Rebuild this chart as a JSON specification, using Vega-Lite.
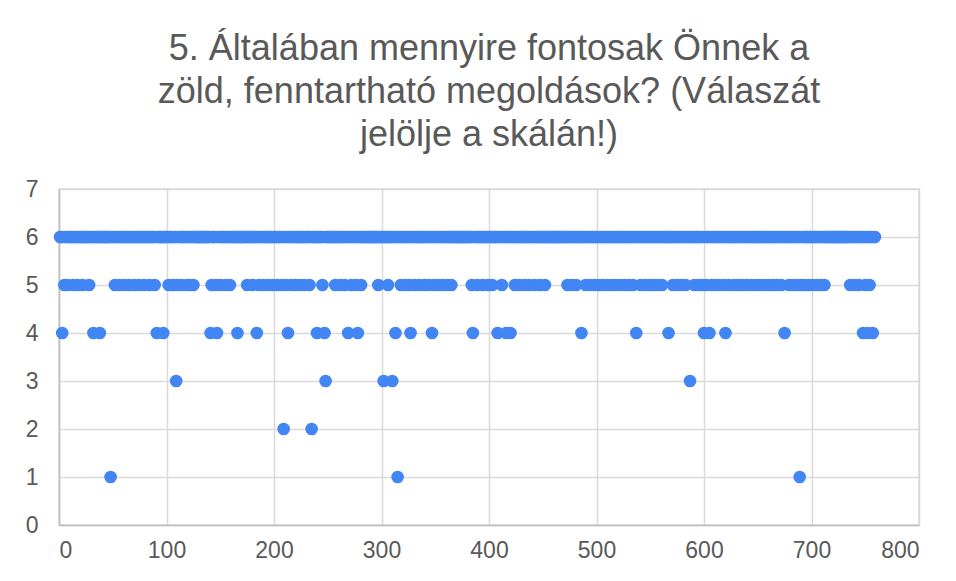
{"$schema":"https://vega.github.io/schema/vega-lite/v6.json","width":860,"height":336,"autosize":"none","padding":{"left":59,"top":189,"right":37,"bottom":56},"background":"white",
"title":{"text":["5. Általában mennyire fontosak Önnek a","zöld, fenntartható megoldások? (Válaszát","jelölje a skálán!)"],"font":"Liberation Sans","fontSize":36,"fontWeight":"normal","color":"#595959","lineHeight":43,"anchor":"middle","offset":24},
"config":{"view":{"stroke":"#d9d9d9","strokeWidth":1.5},"axis":{"labelFont":"Liberation Sans","labelFontSize":23,"labelColor":"#595959","ticks":false,"gridColor":"#d9d9d9","gridWidth":1.5,"domainColor":"#bfbfbf","domainWidth":1.5,"title":null}},
"data":{"values":[
{"n":48,"v":1},{"n":315,"v":1},{"n":689,"v":1},
{"n":209,"v":2},{"n":235,"v":2},
{"n":109,"v":3},{"n":248,"v":3},{"n":302,"v":3},{"n":310,"v":3},{"n":587,"v":3},
{"n":3,"v":4},{"n":32,"v":4},{"n":38,"v":4},{"n":91,"v":4},{"n":97,"v":4},{"n":141,"v":4},{"n":147,"v":4},{"n":166,"v":4},{"n":184,"v":4},{"n":213,"v":4},{"n":240,"v":4},{"n":247,"v":4},{"n":269,"v":4},{"n":278,"v":4},{"n":313,"v":4},{"n":327,"v":4},{"n":347,"v":4},{"n":385,"v":4},{"n":408,"v":4},{"n":416,"v":4},{"n":420,"v":4},{"n":486,"v":4},{"n":537,"v":4},{"n":567,"v":4},{"n":600,"v":4},{"n":605,"v":4},{"n":620,"v":4},{"n":675,"v":4},{"n":748,"v":4},{"n":752,"v":4},{"n":757,"v":4},
{"n":5,"v":5},{"n":8,"v":5},{"n":13,"v":5},{"n":17,"v":5},{"n":22,"v":5},{"n":28,"v":5},{"n":52,"v":5},{"n":56,"v":5},{"n":61,"v":5},{"n":65,"v":5},{"n":70,"v":5},{"n":74,"v":5},{"n":79,"v":5},{"n":84,"v":5},{"n":89,"v":5},{"n":102,"v":5},{"n":106,"v":5},{"n":110,"v":5},{"n":114,"v":5},{"n":119,"v":5},{"n":122,"v":5},{"n":125,"v":5},{"n":142,"v":5},{"n":146,"v":5},{"n":150,"v":5},{"n":155,"v":5},{"n":159,"v":5},{"n":175,"v":5},{"n":180,"v":5},{"n":186,"v":5},{"n":190,"v":5},{"n":195,"v":5},{"n":199,"v":5},{"n":203,"v":5},{"n":207,"v":5},{"n":211,"v":5},{"n":216,"v":5},{"n":220,"v":5},{"n":224,"v":5},{"n":228,"v":5},{"n":233,"v":5},{"n":245,"v":5},{"n":257,"v":5},{"n":262,"v":5},{"n":266,"v":5},{"n":272,"v":5},{"n":276,"v":5},{"n":281,"v":5},{"n":297,"v":5},{"n":306,"v":5},{"n":318,"v":5},{"n":322,"v":5},{"n":326,"v":5},{"n":331,"v":5},{"n":335,"v":5},{"n":340,"v":5},{"n":344,"v":5},{"n":349,"v":5},{"n":353,"v":5},{"n":357,"v":5},{"n":361,"v":5},{"n":365,"v":5},{"n":384,"v":5},{"n":389,"v":5},{"n":394,"v":5},{"n":399,"v":5},{"n":403,"v":5},{"n":412,"v":5},{"n":424,"v":5},{"n":428,"v":5},{"n":433,"v":5},{"n":437,"v":5},{"n":442,"v":5},{"n":447,"v":5},{"n":452,"v":5},{"n":473,"v":5},{"n":477,"v":5},{"n":481,"v":5},{"n":490,"v":5},{"n":494,"v":5},{"n":498,"v":5},{"n":502,"v":5},{"n":506,"v":5},{"n":510,"v":5},{"n":514,"v":5},{"n":518,"v":5},{"n":522,"v":5},{"n":526,"v":5},{"n":530,"v":5},{"n":534,"v":5},{"n":541,"v":5},{"n":545,"v":5},{"n":549,"v":5},{"n":553,"v":5},{"n":557,"v":5},{"n":561,"v":5},{"n":571,"v":5},{"n":575,"v":5},{"n":579,"v":5},{"n":583,"v":5},{"n":591,"v":5},{"n":595,"v":5},{"n":598,"v":5},{"n":602,"v":5},{"n":607,"v":5},{"n":610,"v":5},{"n":614,"v":5},{"n":618,"v":5},{"n":623,"v":5},{"n":628,"v":5},{"n":632,"v":5},{"n":636,"v":5},{"n":640,"v":5},{"n":644,"v":5},{"n":648,"v":5},{"n":652,"v":5},{"n":656,"v":5},{"n":660,"v":5},{"n":664,"v":5},{"n":668,"v":5},{"n":672,"v":5},{"n":679,"v":5},{"n":683,"v":5},{"n":687,"v":5},{"n":691,"v":5},{"n":693,"v":5},{"n":697,"v":5},{"n":701,"v":5},{"n":705,"v":5},{"n":709,"v":5},{"n":712,"v":5},{"n":736,"v":5},{"n":740,"v":5},{"n":744,"v":5},{"n":750,"v":5},{"n":754,"v":5},
{"n":1,"v":6},{"n":2,"v":6},{"n":4,"v":6},{"n":6,"v":6},{"n":7,"v":6},{"n":9,"v":6},
{"n":10,"v":6},{"n":11,"v":6},{"n":12,"v":6},{"n":14,"v":6},{"n":15,"v":6},{"n":16,"v":6},{"n":18,"v":6},{"n":19,"v":6},
{"n":20,"v":6},{"n":21,"v":6},{"n":23,"v":6},{"n":24,"v":6},{"n":25,"v":6},{"n":26,"v":6},{"n":27,"v":6},{"n":29,"v":6},
{"n":30,"v":6},{"n":31,"v":6},{"n":33,"v":6},{"n":34,"v":6},{"n":35,"v":6},{"n":36,"v":6},{"n":37,"v":6},{"n":39,"v":6},
{"n":40,"v":6},{"n":41,"v":6},{"n":42,"v":6},{"n":43,"v":6},{"n":44,"v":6},{"n":45,"v":6},{"n":46,"v":6},{"n":47,"v":6},{"n":49,"v":6},
{"n":50,"v":6},{"n":51,"v":6},{"n":53,"v":6},{"n":54,"v":6},{"n":55,"v":6},{"n":57,"v":6},{"n":58,"v":6},{"n":59,"v":6},
{"n":60,"v":6},{"n":62,"v":6},{"n":63,"v":6},{"n":64,"v":6},{"n":66,"v":6},{"n":67,"v":6},{"n":68,"v":6},{"n":69,"v":6},
{"n":71,"v":6},{"n":72,"v":6},{"n":73,"v":6},{"n":75,"v":6},{"n":76,"v":6},{"n":77,"v":6},{"n":78,"v":6},
{"n":80,"v":6},{"n":81,"v":6},{"n":82,"v":6},{"n":83,"v":6},{"n":85,"v":6},{"n":86,"v":6},{"n":87,"v":6},{"n":88,"v":6},
{"n":90,"v":6},{"n":92,"v":6},{"n":93,"v":6},{"n":94,"v":6},{"n":95,"v":6},{"n":96,"v":6},{"n":98,"v":6},{"n":99,"v":6},
{"n":100,"v":6},{"n":101,"v":6},{"n":103,"v":6},{"n":104,"v":6},{"n":105,"v":6},{"n":107,"v":6},{"n":108,"v":6},
{"n":111,"v":6},{"n":112,"v":6},{"n":113,"v":6},{"n":115,"v":6},{"n":116,"v":6},{"n":117,"v":6},{"n":118,"v":6},
{"n":120,"v":6},{"n":121,"v":6},{"n":123,"v":6},{"n":124,"v":6},{"n":126,"v":6},{"n":127,"v":6},{"n":128,"v":6},{"n":129,"v":6},
{"n":130,"v":6},{"n":131,"v":6},{"n":132,"v":6},{"n":133,"v":6},{"n":134,"v":6},{"n":135,"v":6},{"n":136,"v":6},{"n":137,"v":6},{"n":138,"v":6},{"n":139,"v":6},
{"n":140,"v":6},{"n":143,"v":6},{"n":144,"v":6},{"n":145,"v":6},{"n":148,"v":6},{"n":149,"v":6},
{"n":151,"v":6},{"n":152,"v":6},{"n":153,"v":6},{"n":154,"v":6},{"n":156,"v":6},{"n":157,"v":6},{"n":158,"v":6},
{"n":160,"v":6},{"n":161,"v":6},{"n":162,"v":6},{"n":163,"v":6},{"n":164,"v":6},{"n":165,"v":6},{"n":167,"v":6},{"n":168,"v":6},{"n":169,"v":6},
{"n":170,"v":6},{"n":171,"v":6},{"n":172,"v":6},{"n":173,"v":6},{"n":174,"v":6},{"n":176,"v":6},{"n":177,"v":6},{"n":178,"v":6},{"n":179,"v":6},
{"n":181,"v":6},{"n":182,"v":6},{"n":183,"v":6},{"n":185,"v":6},{"n":187,"v":6},{"n":188,"v":6},{"n":189,"v":6},
{"n":191,"v":6},{"n":192,"v":6},{"n":193,"v":6},{"n":194,"v":6},{"n":196,"v":6},{"n":197,"v":6},{"n":198,"v":6},
{"n":200,"v":6},{"n":201,"v":6},{"n":202,"v":6},{"n":204,"v":6},{"n":205,"v":6},{"n":206,"v":6},{"n":208,"v":6},
{"n":210,"v":6},{"n":212,"v":6},{"n":214,"v":6},{"n":215,"v":6},{"n":217,"v":6},{"n":218,"v":6},{"n":219,"v":6},
{"n":221,"v":6},{"n":222,"v":6},{"n":223,"v":6},{"n":225,"v":6},{"n":226,"v":6},{"n":227,"v":6},{"n":229,"v":6},
{"n":230,"v":6},{"n":231,"v":6},{"n":232,"v":6},{"n":234,"v":6},{"n":236,"v":6},{"n":237,"v":6},{"n":238,"v":6},{"n":239,"v":6},
{"n":241,"v":6},{"n":242,"v":6},{"n":243,"v":6},{"n":244,"v":6},{"n":246,"v":6},{"n":249,"v":6},
{"n":250,"v":6},{"n":251,"v":6},{"n":252,"v":6},{"n":253,"v":6},{"n":254,"v":6},{"n":255,"v":6},{"n":256,"v":6},{"n":258,"v":6},{"n":259,"v":6},
{"n":260,"v":6},{"n":261,"v":6},{"n":263,"v":6},{"n":264,"v":6},{"n":265,"v":6},{"n":267,"v":6},{"n":268,"v":6},
{"n":270,"v":6},{"n":271,"v":6},{"n":273,"v":6},{"n":274,"v":6},{"n":275,"v":6},{"n":277,"v":6},{"n":279,"v":6},
{"n":280,"v":6},{"n":282,"v":6},{"n":283,"v":6},{"n":284,"v":6},{"n":285,"v":6},{"n":286,"v":6},{"n":287,"v":6},{"n":288,"v":6},{"n":289,"v":6},
{"n":290,"v":6},{"n":291,"v":6},{"n":292,"v":6},{"n":293,"v":6},{"n":294,"v":6},{"n":295,"v":6},{"n":296,"v":6},{"n":298,"v":6},{"n":299,"v":6},
{"n":300,"v":6},{"n":301,"v":6},{"n":303,"v":6},{"n":304,"v":6},{"n":305,"v":6},{"n":307,"v":6},{"n":308,"v":6},{"n":309,"v":6},
{"n":311,"v":6},{"n":312,"v":6},{"n":314,"v":6},{"n":316,"v":6},{"n":317,"v":6},{"n":319,"v":6},
{"n":320,"v":6},{"n":321,"v":6},{"n":323,"v":6},{"n":324,"v":6},{"n":325,"v":6},{"n":328,"v":6},{"n":329,"v":6},
{"n":330,"v":6},{"n":332,"v":6},{"n":333,"v":6},{"n":334,"v":6},{"n":336,"v":6},{"n":337,"v":6},{"n":338,"v":6},{"n":339,"v":6},
{"n":341,"v":6},{"n":342,"v":6},{"n":343,"v":6},{"n":345,"v":6},{"n":346,"v":6},{"n":348,"v":6},
{"n":350,"v":6},{"n":351,"v":6},{"n":352,"v":6},{"n":354,"v":6},{"n":355,"v":6},{"n":356,"v":6},{"n":358,"v":6},{"n":359,"v":6},
{"n":360,"v":6},{"n":362,"v":6},{"n":363,"v":6},{"n":364,"v":6},{"n":366,"v":6},{"n":367,"v":6},{"n":368,"v":6},{"n":369,"v":6},
{"n":370,"v":6},{"n":371,"v":6},{"n":372,"v":6},{"n":373,"v":6},{"n":374,"v":6},{"n":375,"v":6},{"n":376,"v":6},{"n":377,"v":6},{"n":378,"v":6},{"n":379,"v":6},
{"n":380,"v":6},{"n":381,"v":6},{"n":382,"v":6},{"n":383,"v":6},{"n":386,"v":6},{"n":387,"v":6},{"n":388,"v":6},
{"n":390,"v":6},{"n":391,"v":6},{"n":392,"v":6},{"n":393,"v":6},{"n":395,"v":6},{"n":396,"v":6},{"n":397,"v":6},{"n":398,"v":6},
{"n":400,"v":6},{"n":401,"v":6},{"n":402,"v":6},{"n":404,"v":6},{"n":405,"v":6},{"n":406,"v":6},{"n":407,"v":6},{"n":409,"v":6},
{"n":410,"v":6},{"n":411,"v":6},{"n":413,"v":6},{"n":414,"v":6},{"n":415,"v":6},{"n":417,"v":6},{"n":418,"v":6},{"n":419,"v":6},
{"n":421,"v":6},{"n":422,"v":6},{"n":423,"v":6},{"n":425,"v":6},{"n":426,"v":6},{"n":427,"v":6},{"n":429,"v":6},
{"n":430,"v":6},{"n":431,"v":6},{"n":432,"v":6},{"n":434,"v":6},{"n":435,"v":6},{"n":436,"v":6},{"n":438,"v":6},{"n":439,"v":6},
{"n":440,"v":6},{"n":441,"v":6},{"n":443,"v":6},{"n":444,"v":6},{"n":445,"v":6},{"n":446,"v":6},{"n":448,"v":6},{"n":449,"v":6},
{"n":450,"v":6},{"n":451,"v":6},{"n":453,"v":6},{"n":454,"v":6},{"n":455,"v":6},{"n":456,"v":6},{"n":457,"v":6},{"n":458,"v":6},{"n":459,"v":6},
{"n":460,"v":6},{"n":461,"v":6},{"n":462,"v":6},{"n":463,"v":6},{"n":464,"v":6},{"n":465,"v":6},{"n":466,"v":6},{"n":467,"v":6},{"n":468,"v":6},{"n":469,"v":6},
{"n":470,"v":6},{"n":471,"v":6},{"n":472,"v":6},{"n":474,"v":6},{"n":475,"v":6},{"n":476,"v":6},{"n":478,"v":6},{"n":479,"v":6},
{"n":480,"v":6},{"n":482,"v":6},{"n":483,"v":6},{"n":484,"v":6},{"n":485,"v":6},{"n":487,"v":6},{"n":488,"v":6},{"n":489,"v":6},
{"n":491,"v":6},{"n":492,"v":6},{"n":493,"v":6},{"n":495,"v":6},{"n":496,"v":6},{"n":497,"v":6},{"n":499,"v":6},
{"n":500,"v":6},{"n":501,"v":6},{"n":503,"v":6},{"n":504,"v":6},{"n":505,"v":6},{"n":507,"v":6},{"n":508,"v":6},{"n":509,"v":6},
{"n":511,"v":6},{"n":512,"v":6},{"n":513,"v":6},{"n":515,"v":6},{"n":516,"v":6},{"n":517,"v":6},{"n":519,"v":6},
{"n":520,"v":6},{"n":521,"v":6},{"n":523,"v":6},{"n":524,"v":6},{"n":525,"v":6},{"n":527,"v":6},{"n":528,"v":6},{"n":529,"v":6},
{"n":531,"v":6},{"n":532,"v":6},{"n":533,"v":6},{"n":535,"v":6},{"n":536,"v":6},{"n":538,"v":6},{"n":539,"v":6},
{"n":540,"v":6},{"n":542,"v":6},{"n":543,"v":6},{"n":544,"v":6},{"n":546,"v":6},{"n":547,"v":6},{"n":548,"v":6},
{"n":550,"v":6},{"n":551,"v":6},{"n":552,"v":6},{"n":554,"v":6},{"n":555,"v":6},{"n":556,"v":6},{"n":558,"v":6},{"n":559,"v":6},
{"n":560,"v":6},{"n":562,"v":6},{"n":563,"v":6},{"n":564,"v":6},{"n":565,"v":6},{"n":566,"v":6},{"n":568,"v":6},{"n":569,"v":6},
{"n":570,"v":6},{"n":572,"v":6},{"n":573,"v":6},{"n":574,"v":6},{"n":576,"v":6},{"n":577,"v":6},{"n":578,"v":6},
{"n":580,"v":6},{"n":581,"v":6},{"n":582,"v":6},{"n":584,"v":6},{"n":585,"v":6},{"n":586,"v":6},{"n":588,"v":6},{"n":589,"v":6},
{"n":590,"v":6},{"n":592,"v":6},{"n":593,"v":6},{"n":594,"v":6},{"n":596,"v":6},{"n":597,"v":6},{"n":599,"v":6},
{"n":601,"v":6},{"n":603,"v":6},{"n":604,"v":6},{"n":606,"v":6},{"n":608,"v":6},{"n":609,"v":6},
{"n":611,"v":6},{"n":612,"v":6},{"n":613,"v":6},{"n":615,"v":6},{"n":616,"v":6},{"n":617,"v":6},{"n":619,"v":6},
{"n":621,"v":6},{"n":622,"v":6},{"n":624,"v":6},{"n":625,"v":6},{"n":626,"v":6},{"n":627,"v":6},{"n":629,"v":6},
{"n":630,"v":6},{"n":631,"v":6},{"n":633,"v":6},{"n":634,"v":6},{"n":635,"v":6},{"n":637,"v":6},{"n":638,"v":6},{"n":639,"v":6},
{"n":641,"v":6},{"n":642,"v":6},{"n":643,"v":6},{"n":645,"v":6},{"n":646,"v":6},{"n":647,"v":6},{"n":649,"v":6},
{"n":650,"v":6},{"n":651,"v":6},{"n":653,"v":6},{"n":654,"v":6},{"n":655,"v":6},{"n":657,"v":6},{"n":658,"v":6},{"n":659,"v":6},
{"n":661,"v":6},{"n":662,"v":6},{"n":663,"v":6},{"n":665,"v":6},{"n":666,"v":6},{"n":667,"v":6},{"n":669,"v":6},
{"n":670,"v":6},{"n":671,"v":6},{"n":673,"v":6},{"n":674,"v":6},{"n":676,"v":6},{"n":677,"v":6},{"n":678,"v":6},
{"n":680,"v":6},{"n":681,"v":6},{"n":682,"v":6},{"n":684,"v":6},{"n":685,"v":6},{"n":686,"v":6},{"n":688,"v":6},
{"n":690,"v":6},{"n":692,"v":6},{"n":694,"v":6},{"n":695,"v":6},{"n":696,"v":6},{"n":698,"v":6},{"n":699,"v":6},
{"n":700,"v":6},{"n":702,"v":6},{"n":703,"v":6},{"n":704,"v":6},{"n":706,"v":6},{"n":707,"v":6},{"n":708,"v":6},
{"n":710,"v":6},{"n":711,"v":6},{"n":713,"v":6},{"n":714,"v":6},{"n":715,"v":6},{"n":716,"v":6},{"n":717,"v":6},{"n":718,"v":6},{"n":719,"v":6},
{"n":720,"v":6},{"n":721,"v":6},{"n":722,"v":6},{"n":723,"v":6},{"n":724,"v":6},{"n":725,"v":6},{"n":726,"v":6},{"n":727,"v":6},{"n":728,"v":6},{"n":729,"v":6},
{"n":730,"v":6},{"n":731,"v":6},{"n":732,"v":6},{"n":733,"v":6},{"n":734,"v":6},{"n":735,"v":6},{"n":737,"v":6},{"n":738,"v":6},{"n":739,"v":6},
{"n":741,"v":6},{"n":742,"v":6},{"n":743,"v":6},{"n":745,"v":6},{"n":746,"v":6},{"n":747,"v":6},{"n":749,"v":6},
{"n":751,"v":6},{"n":753,"v":6},{"n":755,"v":6},{"n":756,"v":6},{"n":758,"v":6},{"n":759,"v":6}
]},
"mark":{"type":"point","filled":true,"size":160,"opacity":1,"color":"#4285F4"},
"encoding":{
"x":{"field":"n","type":"quantitative","scale":{"domain":[0,800],"nice":false,"zero":true},"axis":{"values":[0,100,200,300,400,500,600,700,800],"labelPadding":14,"domain":true,"grid":true}},
"y":{"field":"v","type":"quantitative","scale":{"domain":[0,7],"nice":false},"axis":{"values":[0,1,2,3,4,5,6,7],"labelPadding":21,"domain":true,"grid":true}}
}}
